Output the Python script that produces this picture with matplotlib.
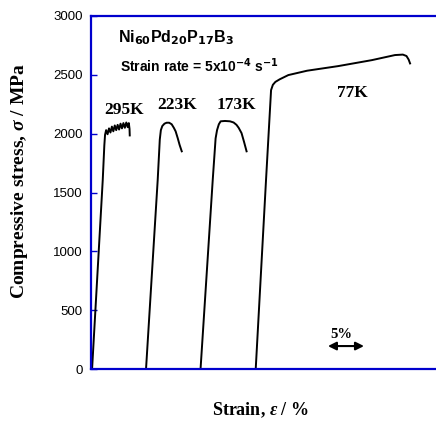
import matplotlib
matplotlib.use("Agg")
import matplotlib.pyplot as plt

# fonts / mathtext
plt.rcParams['mathtext.fontset'] = 'custom'
plt.rcParams['mathtext.rm'] = 'Liberation Sans Narrow:bold'
plt.rcParams['mathtext.bf'] = 'Liberation Sans Narrow:bold'
plt.rcParams['mathtext.default'] = 'bf'
plt.rcParams['mathtext.bfit'] = 'Liberation Serif:italic:bold'

SANS = ['Liberation Sans Narrow', 'Liberation Sans', 'DejaVu Sans']
SERIF = ['Liberation Serif', 'DejaVu Serif']
BLUE = '#0000CD'

# Data: strain (%) vs compressive stress (MPa)
strain_295 = [0.15, 1.63, 1.85, 1.95, 2.1, 2.3, 2.5, 2.7, 2.9, 3.1, 3.3, 3.5,
              3.7, 3.9, 4.1, 4.3, 4.5, 4.7, 4.9, 5.1, 5.25, 5.35, 5.38]
stress_295 = [0, 1606, 1900, 1990, 2030, 1995, 2045, 2010, 2060, 2020, 2070, 2030,
              2075, 2035, 2085, 2045, 2090, 2050, 2095, 2055, 2090, 2040, 1985]

strain_223 = [7.64, 9.26, 9.55, 9.7, 9.9, 10.2, 10.5, 10.85, 11.2, 11.5, 11.75,
              12.05, 12.3, 12.6]
stress_223 = [0, 1606, 1950, 2030, 2065, 2085, 2093, 2093, 2080, 2050, 2020,
              1960, 1905, 1850]

strain_173 = [15.21, 16.9, 17.3, 17.5, 17.75, 18.0, 18.6, 19.3, 19.8, 20.2, 20.5,
              20.9, 21.25, 21.6]
stress_173 = [0, 1606, 1960, 2030, 2080, 2105, 2108, 2105, 2095, 2075, 2050,
              2005, 1930, 1850]

strain_77 = [22.87, 24.3, 25.0, 25.25, 25.6, 26.2, 27.4, 30.0, 34.3, 39.0, 42.2,
             43.3, 43.8, 44.1, 44.3]
stress_77 = [0, 1606, 2370, 2415, 2440, 2462, 2498, 2535, 2574, 2625, 2668,
             2672, 2660, 2630, 2597]

curves = [(strain_295, stress_295), (strain_223, stress_223),
          (strain_173, stress_173), (strain_77, stress_77)]

temp_labels = ['295K', '223K', '173K', '77K']
temp_label_pos = [(4.6, 2200), (12.0, 2240), (20.2, 2240), (36.3, 2345)]

yticks = [0, 500, 1000, 1500, 2000, 2500, 3000]
XMAX = 47.9

fig = plt.figure(figsize=(4.36, 4.25), dpi=100)
ax = fig.add_axes([91 / 436, 1 - 369 / 425, 1 - 91 / 436, 353 / 425])

for x, y in curves:
    ax.plot(x, y, color='black', lw=1.4, solid_joinstyle='round')

for lab, (tx, ty) in zip(temp_labels, temp_label_pos):
    ax.text(tx, ty, lab, ha='center', va='center', fontsize=12.5,
            fontweight='bold', family=SERIF)

ax.set_xlim(0, XMAX)
ax.set_ylim(0, 3000)
ax.set_xticks([])
ax.set_yticks(yticks)
ax.tick_params(axis='y', direction='in', length=4, width=1, color=BLUE,
               labelcolor='black', pad=6)
for lbl in ax.get_yticklabels():
    lbl.set_family(SANS)
    lbl.set_fontsize(9.5)

for side in ['left', 'bottom', 'top']:
    ax.spines[side].set_color(BLUE)
    ax.spines[side].set_linewidth(1.6)
ax.spines['right'].set_visible(False)

# alloy + strain rate
ax.text(3.7, 2815, r'Ni$_{60}$Pd$_{20}$P$_{17}$B$_{3}$', fontsize=11.5,
        fontweight='bold', family=SANS, ha='left', va='center')
ax.text(4.0, 2580, r'Strain rate = 5x10$^{-4}$ s$^{-1}$', fontsize=10,
        fontweight='bold', family=SANS, ha='left', va='center')

# 5% scale bar
ax.annotate('', xy=(37.9, 195), xytext=(32.9, 195),
            arrowprops=dict(arrowstyle='<|-|>', color='black', lw=1.5,
                            mutation_scale=12, shrinkA=0, shrinkB=0))
ax.text(34.8, 290, '5%', ha='center', va='center', fontsize=10.5,
        fontweight='bold', family=SERIF)

fig.text(20 / 436, 1 - 181 / 425, r'Compressive stress, $\mathbfit{\sigma}$ / MPa',
         rotation=90, ha='center', va='center', fontsize=14,
         fontweight='bold', family=SERIF)
fig.text(260.5 / 436, 1 - 410 / 425, r'Strain, $\mathbfit{\varepsilon}$ / %',
         ha='center', va='center', fontsize=13, fontweight='bold', family=SERIF)

fig.savefig('out.png', dpi=100)
